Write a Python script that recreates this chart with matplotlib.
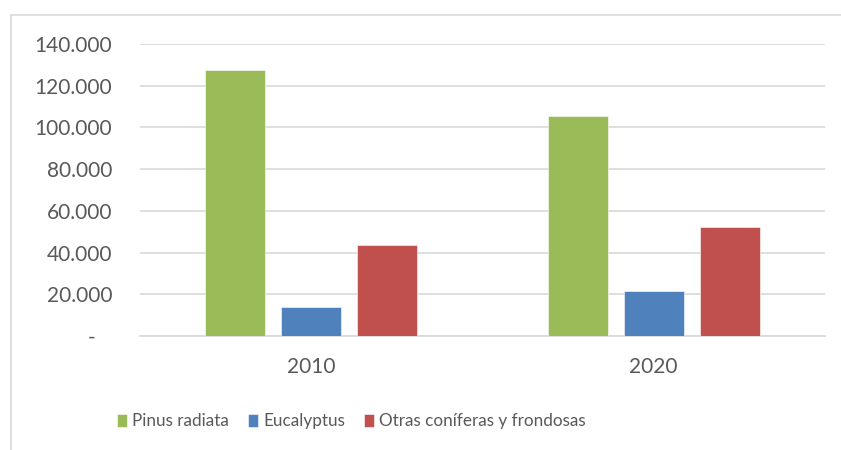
import matplotlib.pyplot as plt
import numpy as np

# data
years = ['2010', '2020']
pinus = [127500, 105300]
eucalyptus = [14000, 21700]
otras = [43500, 52300]
series_names = ['Pinus radiata', 'Eucalyptus', 'Otras coníferas y frondosas']
y_ticks = [0, 20000, 40000, 60000, 80000, 100000, 120000, 140000]
y_labels = ['-   ', '20.000', '40.000', '60.000', '80.000', '100.000', '120.000', '140.000']

colors = ['#9BBB59', '#4F81BD', '#C0504D']
text_color = '#595959'
grid_color = '#D9D9D9'

plt.rcParams['font.family'] = ['Lato', 'DejaVu Sans']

W, H = 841, 450
fig = plt.figure(figsize=(W / 100, H / 100), dpi=100)
ax = fig.add_axes([140 / W, 1 - 336 / H, 685 / W, 292 / H])

x = np.arange(len(years))
step = 0.222
width = 0.175
for i, (vals, name) in enumerate(zip([pinus, eucalyptus, otras], series_names)):
    ax.bar(x + (i - 1) * step, vals, width, color=colors[i], label=name,
           edgecolor='white', linewidth=0.4, zorder=3)

ax.set_xlim(-0.5, 1.5)
ax.set_ylim(0, 140000)
ax.set_yticks(y_ticks)
ax.set_yticklabels(y_labels)
ax.set_xticks(x)
ax.set_xticklabels(years)
ax.tick_params(axis='y', length=0, pad=20, labelsize=15, labelcolor=text_color)
ax.tick_params(axis='x', length=0, pad=15, labelsize=15, labelcolor=text_color)
ax.grid(axis='y', color=grid_color, linewidth=1.2, zorder=0)
for s in ['top', 'right', 'left']:
    ax.spines[s].set_visible(False)
ax.spines['bottom'].set_color(grid_color)
ax.spines['bottom'].set_linewidth(1.2)

ax.legend(loc='center left', bbox_to_anchor=(117 / W, 1 - 421 / H),
          bbox_transform=fig.transFigure, ncol=3, frameon=False,
          fontsize=12.3, labelcolor=text_color, borderpad=0, borderaxespad=0,
          handlelength=0.6, handleheight=0.8, handletextpad=0.3,
          columnspacing=1.1)

# outer chart frame
fig.add_artist(plt.Rectangle((11 / W, -0.1), 2, 1 - 15 / H + 0.1,
                             transform=fig.transFigure, fill=False,
                             edgecolor=grid_color, linewidth=1.2))

fig.savefig('out.png', dpi=100)
